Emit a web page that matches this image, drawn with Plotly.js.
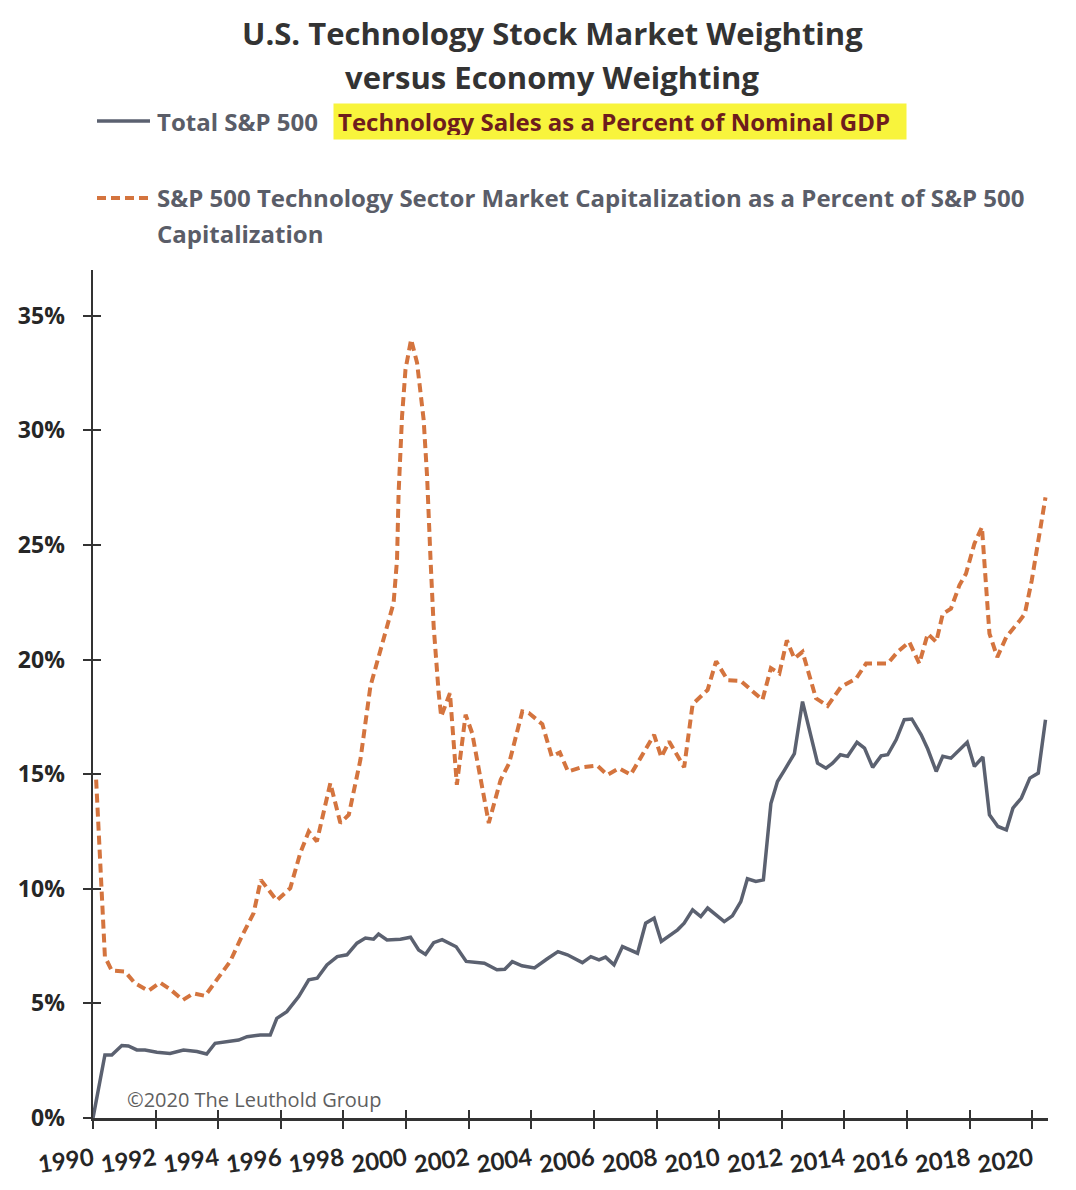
<!DOCTYPE html>
<html>
<head>
<meta charset="utf-8">
<script src="https://cdn.plot.ly/plotly-3.0.1.min.js"></script>
<style>
  html, body { margin: 0; padding: 0; background: #fff; }
  #chart { width: 1076px; height: 1190px; }
</style>
</head>
<body>
<div id="chart"></div>
<script>
// Total S&P 500 technology sales as % of nominal GDP
const salesYears = [
  1990.0, 1990.38, 1990.6, 1990.92, 1991.13, 1991.4, 1991.66, 1992.04, 1992.46, 1992.89,
  1993.32, 1993.63, 1993.9, 1994.28, 1994.65, 1994.92, 1995.34, 1995.66, 1995.87, 1996.19,
  1996.57, 1996.89, 1997.16, 1997.47, 1997.8, 1998.11, 1998.43, 1998.7, 1998.96, 1999.12,
  1999.39, 1999.82, 2000.14, 2000.4, 2000.62, 2000.88, 2001.15, 2001.6, 2001.92, 2002.5,
  2002.9, 2003.15, 2003.39, 2003.7, 2004.1, 2004.51, 2004.85, 2005.15, 2005.63, 2005.9,
  2006.16, 2006.37, 2006.64, 2006.91, 2007.39, 2007.65, 2007.92, 2008.15, 2008.67, 2008.88,
  2009.15, 2009.41, 2009.63, 2010.16, 2010.42, 2010.69, 2010.9, 2011.17, 2011.41, 2011.65,
  2011.86, 2012.08, 2012.4, 2012.66, 2013.14, 2013.41, 2013.62, 2013.87, 2014.1, 2014.4,
  2014.64, 2014.9, 2015.17, 2015.38, 2015.65, 2015.91, 2016.15, 2016.45, 2016.66, 2016.93,
  2017.14, 2017.4, 2017.67, 2017.92, 2018.15, 2018.42, 2018.63, 2018.9, 2019.17, 2019.38,
  2019.65, 2019.92, 2020.19, 2020.42
];
const salesPct = [
  0.0, 2.75, 2.75, 3.16, 3.14, 2.97, 2.97, 2.87, 2.82, 2.97,
  2.9, 2.79, 3.26, 3.33, 3.4, 3.55, 3.62, 3.62, 4.35, 4.64,
  5.3, 6.03, 6.1, 6.68, 7.04, 7.12, 7.63, 7.85, 7.8, 8.03,
  7.77, 7.8, 7.89, 7.33, 7.14, 7.65, 7.78, 7.47, 6.83, 6.75,
  6.47, 6.49, 6.82, 6.64, 6.55, 6.95, 7.26, 7.12, 6.78, 7.04,
  6.9, 7.02, 6.68, 7.48, 7.19, 8.5, 8.72, 7.7, 8.21, 8.5,
  9.08, 8.79, 9.16, 8.57, 8.82, 9.44, 10.44, 10.32, 10.39, 13.72,
  14.68, 15.17, 15.9, 18.17, 15.48, 15.26, 15.48, 15.85, 15.78, 16.39,
  16.14, 15.3, 15.8, 15.85, 16.5, 17.38, 17.41, 16.72, 16.1, 15.12,
  15.78, 15.7, 16.07, 16.39, 15.34, 15.75, 13.23, 12.72, 12.57, 13.52,
  13.96, 14.83, 15.05, 17.38
];

// S&P 500 technology sector market cap as % of S&P 500 capitalization
const capYears = [
  1990.1, 1990.38, 1990.6, 1991.02, 1991.34, 1991.77, 1992.14, 1992.46, 1992.87, 1993.21,
  1993.58, 1994.0, 1994.38, 1994.75, 1995.13, 1995.36, 1995.87, 1996.3, 1996.62, 1996.89,
  1997.15, 1997.58, 1997.9, 1998.17, 1998.54, 1998.86, 1999.18, 1999.6, 1999.71, 1999.76,
  1999.87, 1999.98, 2000.16, 2000.35, 2000.56, 2000.67, 2000.78, 2000.88, 2001.04, 2001.12,
  2001.4, 2001.62, 2001.9, 2002.11, 2002.64, 2003.02, 2003.29, 2003.71, 2003.92, 2004.35,
  2004.65, 2004.91, 2005.17, 2005.6, 2006.1, 2006.43, 2006.8, 2007.17, 2007.47, 2007.92,
  2008.15, 2008.4, 2008.88, 2009.15, 2009.63, 2009.9, 2010.27, 2010.69, 2011.38, 2011.65,
  2011.92, 2012.16, 2012.4, 2012.66, 2013.09, 2013.46, 2013.89, 2014.37, 2014.69, 2015.38,
  2015.7, 2016.07, 2016.39, 2016.66, 2016.93, 2017.14, 2017.4, 2017.67, 2017.88, 2018.15,
  2018.39, 2018.47, 2018.63, 2018.88, 2019.17, 2019.6, 2019.76, 2019.98, 2020.19, 2020.42
];
const capPct = [
  14.76, 7.04, 6.43, 6.39, 5.88, 5.55, 5.91, 5.62, 5.15, 5.44,
  5.33, 6.1, 6.83, 7.92, 8.94, 10.39, 9.49, 10.03, 11.56, 12.5,
  12.07, 14.61, 12.87, 13.23, 15.63, 18.84, 20.44, 22.47, 24.36, 27.27,
  30.61, 32.66, 33.97, 32.95, 30.47, 27.99, 24.36, 21.45, 18.54, 17.52,
  18.54, 14.54, 17.6, 16.79, 12.87, 14.76, 15.48, 17.74, 17.67, 17.18,
  15.78, 15.95, 15.12, 15.3, 15.38, 14.97, 15.26, 14.98, 15.67, 16.72,
  15.74, 16.43, 15.3, 18.05, 18.68, 19.93, 19.1, 19.07, 18.24, 19.63,
  19.4, 20.84, 20.05, 20.34, 18.31, 17.98, 18.81, 19.17, 19.83, 19.83,
  20.34, 20.77, 19.83, 21.13, 20.77, 22.0, 22.22, 23.24, 23.75, 25.06,
  25.78, 24.33, 21.13, 20.11, 20.99, 21.71, 22.0, 23.45, 25.2, 27.08
];

const yearTicks = [1990, 1992, 1994, 1996, 1998, 2000, 2002, 2004, 2006, 2008,
  2010, 2012, 2014, 2016, 2018, 2020];
const yearLabels = yearTicks.map(String);
const pctTicks = [0, 5, 10, 15, 20, 25, 30, 35];
const pctLabels = pctTicks.map((v) => v + '%');

const titleLines = ['U.S. Technology Stock Market Weighting', 'versus Economy Weighting'];
const seriesNames = [
  'Total S&P 500 Technology Sales as a Percent of Nominal GDP',
  'S&P 500 Technology Sector Market Capitalization as a Percent of S&P 500 Capitalization'
];

const GRAY = '#5b6170';
const ORANGE = '#d4743e';
const INK = '#262626';
const LEG = '#5a5d68';
const TICKFONT = 'Lato, "Open Sans", sans-serif';
const TEXTFONT = '"Open Sans", Lato, sans-serif';

// page px -> paper coords (plot area 93..1048 x 270..1118)
const W = 1076, H = 1190, L = 93, R = 28, T = 270, B = 72;
const px = (x) => (x - L) / (W - L - R);
const py = (y) => (H - B - y) / (H - T - B);

const data = [
  {
    type: 'scatter', mode: 'lines', name: seriesNames[0],
    x: salesYears, y: salesPct,
    line: { color: GRAY, width: 3.5 },
    hoverinfo: 'skip', showlegend: false
  },
  {
    type: 'scatter', mode: 'lines', name: seriesNames[1],
    x: capYears, y: capPct,
    line: { color: ORANGE, width: 4, dash: '9px,5px' },
    hoverinfo: 'skip', showlegend: false
  },
  // empty trace so the inner-tick overlay axes exist
  { type: 'scatter', x: [], y: [], xaxis: 'x2', yaxis: 'y2', showlegend: false, hoverinfo: 'skip' }
];

const note = (x, y, text, font, extra) => Object.assign({
  xref: 'paper', yref: 'paper', x: px(x), y: py(y),
  xanchor: 'left', yanchor: 'middle', showarrow: false, align: 'left',
  text: text, font: font
}, extra || {});

const legFont = { family: TEXTFONT, size: 24, color: LEG, weight: 'bold' };
const titleFont = { family: TEXTFONT, size: 31, color: '#333' };

const layout = {
  width: W, height: H,
  margin: { l: L, r: R, t: T, b: B },
  paper_bgcolor: '#fff', plot_bgcolor: '#fff',
  font: { family: TEXTFONT, color: INK },
  showlegend: false,
  xaxis: {
    range: [1990, 2020.5],
    tickmode: 'array', tickvals: yearTicks, ticktext: yearLabels,
    ticks: 'outside', ticklen: 8, tickwidth: 2, tickcolor: '#333',
    showline: true, linecolor: '#333', linewidth: 2.5,
    showgrid: false, zeroline: false, fixedrange: true,
    tickangle: -8, ticklabelstandoff: 8,
    tickfont: { family: TICKFONT, size: 24, color: INK, weight: 'bold' }
  },
  yaxis: {
    range: [0, 37],
    tickmode: 'array', tickvals: pctTicks, ticktext: pctLabels,
    ticks: 'outside', ticklen: 8, tickwidth: 2, tickcolor: '#333',
    showline: true, linecolor: '#333', linewidth: 2.5,
    showgrid: false, zeroline: false, fixedrange: true,
    ticklabelstandoff: 13,
    tickfont: { family: TEXTFONT, size: 23, color: INK, weight: 'bold' }
  },
  xaxis2: {
    overlaying: 'x', anchor: 'y', side: 'bottom',
    range: [1990, 2020.5], tickmode: 'array', tickvals: yearTicks,
    ticks: 'inside', ticklen: 8, tickwidth: 2, tickcolor: '#333',
    showticklabels: false, showline: false, showgrid: false, zeroline: false
  },
  yaxis2: {
    overlaying: 'y', anchor: 'x', side: 'left',
    range: [0, 37], tickmode: 'array', tickvals: pctTicks,
    ticks: 'inside', ticklen: 8, tickwidth: 2, tickcolor: '#333',
    showticklabels: false, showline: false, showgrid: false, zeroline: false
  },
  shapes: [
    { type: 'line', xref: 'paper', yref: 'paper', x0: px(97), x1: px(150), y0: py(121), y1: py(121),
      line: { color: GRAY, width: 3.5 } },
    { type: 'line', xref: 'paper', yref: 'paper', x0: px(97), x1: px(150), y0: py(198), y1: py(198),
      line: { color: ORANGE, width: 4, dash: '9px,5px' } }
  ],
  annotations: [
    note(552, 33, '<b>' + titleLines[0] + '</b>', titleFont, { xanchor: 'center' }),
    note(552, 77, '<b>' + titleLines[1] + '</b>', titleFont, { xanchor: 'center' }),
    note(155, 121, '<b>Total S&P 500</b>', legFont),
    note(333, 121, '<b>Technology Sales as a Percent of Nominal GDP</b>',
      { family: TEXTFONT, size: 24, color: '#6e1d1d', weight: 'bold' },
      { width: 564, height: 27, borderpad: 4, bgcolor: '#f8f43c' }),
    note(155, 198, '<b>S&P 500 Technology Sector Market Capitalization as a Percent of S&P 500</b>', legFont),
    note(155, 233, '<b>Capitalization</b>', legFont),
    note(125, 1099, '©2020 The Leuthold Group', { family: TEXTFONT, size: 20, color: '#5f5f5f' })
  ]
};

Plotly.newPlot('chart', data, layout, { displayModeBar: false, staticPlot: true });
</script>
</body>
</html>
